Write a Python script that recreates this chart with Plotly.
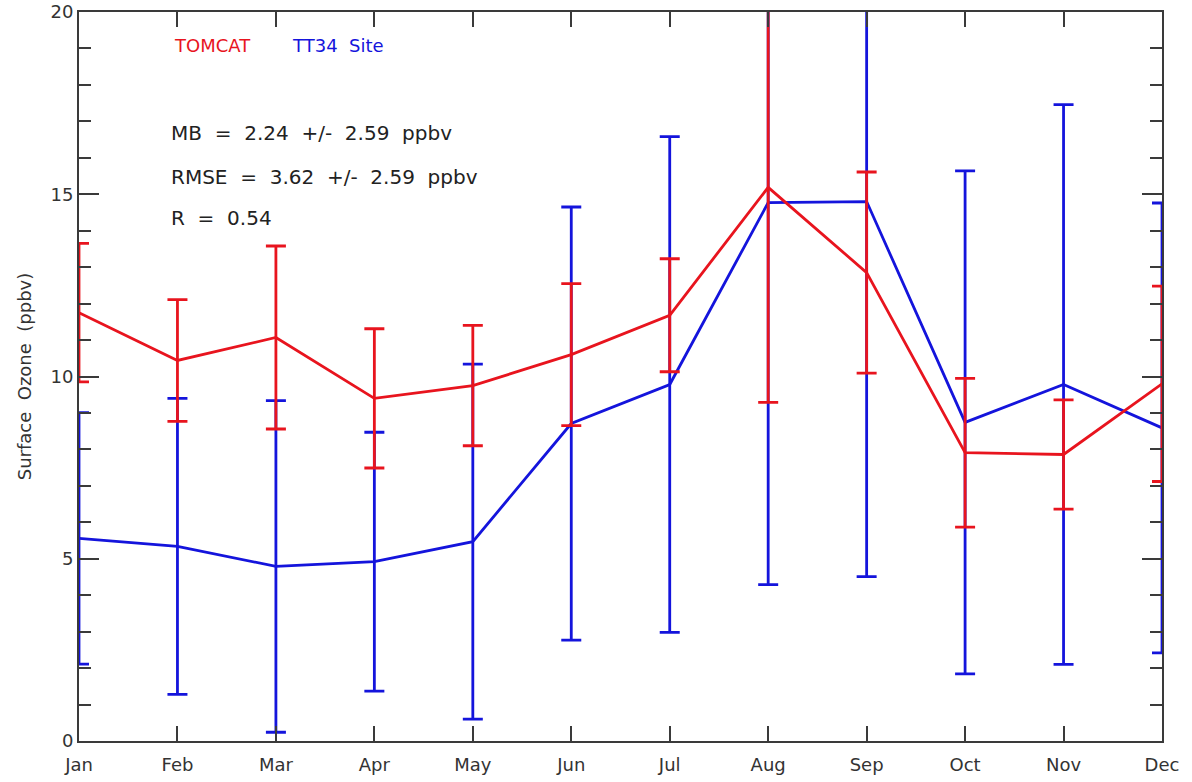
import plotly.graph_objects as go

months = ["Jan", "Feb", "Mar", "Apr", "May", "Jun", "Jul", "Aug", "Sep", "Oct", "Nov", "Dec"]
tomcat_mean = [11.75, 10.44, 11.07, 9.40, 9.75, 10.60, 11.68, 15.19, 12.85, 7.91, 7.86, 9.80]
tomcat_err = [1.90, 1.67, 2.51, 1.91, 1.65, 1.95, 1.55, 5.90, 2.76, 2.04, 1.50, 2.68]
site_mean = [5.56, 5.34, 4.79, 4.92, 5.47, 8.71, 9.78, 14.77, 14.80, 8.74, 9.78, 8.59]
site_err = [3.45, 4.06, 4.55, 3.55, 4.87, 5.94, 6.80, 10.48, 10.29, 6.90, 7.68, 6.17]
y_ticks = [0, 5, 10, 15, 20]

RED = "#e8141e"
BLUE = "#1414dc"
AX = "#3a3a3a"
TXT = "#333333"
FONT = "DejaVu Sans"

x = list(range(len(months)))

fig = go.Figure()
fig.add_trace(go.Scatter(
    x=x, y=site_mean, mode="lines", line=dict(color=BLUE, width=2.8),
    error_y=dict(type="data", array=site_err, visible=True, color=BLUE, thickness=2.8, width=10),
    name="TT34 Site", showlegend=False))
fig.add_trace(go.Scatter(
    x=x, y=tomcat_mean, mode="lines", line=dict(color=RED, width=2.8),
    error_y=dict(type="data", array=tomcat_err, visible=True, color=RED, thickness=2.8, width=10),
    name="TOMCAT", showlegend=False))

fig.update_layout(
    width=1192, height=782,
    margin=dict(l=79, r=30, t=12, b=41),
    paper_bgcolor="white", plot_bgcolor="white",
    font=dict(family=FONT, size=18, color=TXT),
    xaxis=dict(
        range=[0, 11], tickvals=x, ticktext=months,
        ticks="inside", ticklen=15, tickwidth=1.5, tickcolor=AX,
        showline=True, linecolor=AX, linewidth=2, mirror="allticks",
        showgrid=False, zeroline=False, automargin=False,
        ticklabelstandoff=6,
        tickfont=dict(size=18, family=FONT, color=TXT),
    ),
    yaxis=dict(
        range=[0, 20], tickvals=y_ticks,
        ticks="inside", ticklen=20, tickwidth=1.5, tickcolor=AX,
        minor=dict(dtick=1, ticks="inside", ticklen=12, tickwidth=1.5, tickcolor=AX, showgrid=False),
        showline=True, linecolor=AX, linewidth=2, mirror="allticks",
        showgrid=False, zeroline=False, automargin=False,
        title=dict(text="Surface  Ozone  (ppbv)", font=dict(size=18, family=FONT, color=TXT), standoff=14),
        tickfont=dict(size=18, family=FONT, color=TXT),
    ),
)

annots = [
    dict(text="TOMCAT", x=172, y=46, color=RED, size=18),
    dict(text="TT34  Site", x=290, y=46, color=BLUE, size=18),
    dict(text="MB  =  2.24  +/-  2.59  ppbv", x=169, y=133, color="#222222", size=20),
    dict(text="RMSE  =  3.62  +/-  2.59  ppbv", x=169, y=177, color="#222222", size=20),
    dict(text="R  =  0.54", x=169, y=218, color="#222222", size=20),
]
for a in annots:
    fig.add_annotation(
        text=a["text"], xref="paper", yref="paper",
        x=(a["x"] - 79) / (1192 - 79 - 30), y=1 - (a["y"] - 12) / (782 - 12 - 41),
        xanchor="left", yanchor="middle", showarrow=False,
        font=dict(size=a["size"], family=FONT, color=a["color"]),
    )

fig.write_html("out.html")
